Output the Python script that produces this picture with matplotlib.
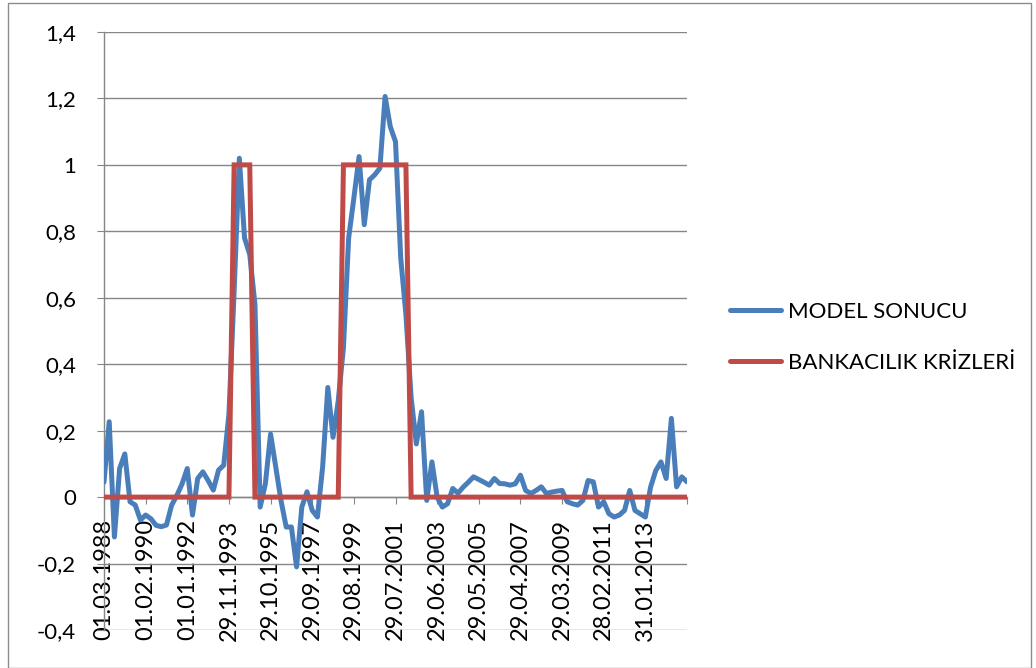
import numpy as np
import matplotlib
matplotlib.use("Agg")
import matplotlib.pyplot as plt
from matplotlib.ticker import FuncFormatter
from matplotlib.patches import Rectangle

plt.rcParams['font.family'] = ['Lato', 'DejaVu Sans']

# model output per period
model_sonucu = [
    0.045, 0.227, -0.12, 0.086, 0.13, -0.014, -0.024, -0.069, -0.054, -0.065,
    -0.085, -0.089, -0.084, -0.024, 0.005, 0.04, 0.086, -0.054, 0.056, 0.076,
    0.05, 0.021, 0.081, 0.096, 0.25, 0.62, 1.02, 0.78, 0.73, 0.58,
    -0.03, 0.04, 0.19, 0.09, -0.01, -0.09, -0.09, -0.21, -0.03, 0.016,
    -0.04, -0.06, 0.09, 0.33, 0.18, 0.29, 0.45, 0.78, 0.9, 1.025,
    0.82, 0.955, 0.97, 0.99, 1.206, 1.115, 1.07, 0.72, 0.55, 0.3,
    0.16, 0.257, -0.01, 0.106, 0.0, -0.03, -0.02, 0.026, 0.012, 0.03,
    0.045, 0.061, 0.053, 0.045, 0.036, 0.056, 0.041, 0.04, 0.036, 0.04,
    0.066, 0.02, 0.011, 0.02, 0.031, 0.011, 0.015, 0.018, 0.02, -0.014,
    -0.02, -0.024, -0.01, 0.05, 0.046, -0.03, -0.014, -0.05, -0.06, -0.054,
    -0.04, 0.02, -0.04, -0.05, -0.06, 0.03, 0.08, 0.106, 0.056, 0.237,
    0.031, 0.061, 0.046,
]

# banking crisis dummy (1 = crisis)
bankacilik_krizleri = [
    0, 0, 0, 0, 0, 0, 0, 0, 0, 0,
    0, 0, 0, 0, 0, 0, 0, 0, 0, 0,
    0, 0, 0, 0, 0, 1, 1, 1, 1, 0,
    0, 0, 0, 0, 0, 0, 0, 0, 0, 0,
    0, 0, 0, 0, 0, 0, 1, 1, 1, 1,
    1, 1, 1, 1, 1, 1, 1, 1, 1, 0,
    0, 0, 0, 0, 0, 0, 0, 0, 0, 0,
    0, 0, 0, 0, 0, 0, 0, 0, 0, 0,
    0, 0, 0, 0, 0, 0, 0, 0, 0, 0,
    0, 0, 0, 0, 0, 0, 0, 0, 0, 0,
    0, 0, 0, 0, 0, 0, 0, 0, 0, 0,
    0, 0, 0,
]

tarih_etiketleri = ['01.03.1988', '01.02.1990', '01.01.1992', '29.11.1993',
                    '29.10.1995', '29.09.1997', '29.08.1999', '29.07.2001',
                    '29.06.2003', '29.05.2005', '29.04.2007', '29.03.2009',
                    '28.02.2011', '31.01.2013']
etiket_araligi = 8

x = np.arange(len(model_sonucu))

W, H = 1036, 668
fig = plt.figure(figsize=(W / 100, H / 100), dpi=100)
fig.patch.set_facecolor('white')

# chart area border
fig.patches.append(Rectangle((8 / W, 0), (1031 - 8) / W, (H - 3) / H,
                             transform=fig.transFigure, fill=False,
                             edgecolor='#8c8c8c', linewidth=1.0))

ax = fig.add_axes([104 / W, (H - 630) / H, (687 - 104) / W, (630 - 32) / H])

blue = '#4a7ebb'
red = '#be4b48'
grid = '#868686'

l1, = ax.plot(x, model_sonucu, color=blue, lw=3.6, solid_joinstyle='round',
              solid_capstyle='round', label='MODEL SONUCU', zorder=3)
l2, = ax.plot(x, bankacilik_krizleri, color=red, lw=3.6, solid_joinstyle='miter',
              solid_capstyle='round', label='BANKACILIK KRİZLERİ', zorder=4)

ax.set_xlim(0, len(model_sonucu) - 1)
ax.set_ylim(-0.4, 1.4)

ax.spines['top'].set_visible(False)
ax.spines['right'].set_visible(False)
ax.spines['bottom'].set_position(('data', 0))
for s in ('left', 'bottom'):
    ax.spines[s].set_color(grid)
    ax.spines[s].set_linewidth(1.0)

ax.set_yticks(np.arange(-0.4, 1.41, 0.2))


def virgul(v, pos):
    v = round(v, 1)
    if v == int(v):
        return str(int(v))
    return f'{v:.1f}'.replace('.', ',')


ax.yaxis.set_major_formatter(FuncFormatter(virgul))

xt = list(range(0, len(model_sonucu), etiket_araligi))
ax.set_xticks(xt)
ax.set_xticklabels(tarih_etiketleri + [''] * (len(xt) - len(tarih_etiketleri)))

ax.tick_params(axis='y', direction='out', length=5, color=grid, labelsize=16,
               pad=15)
ax.tick_params(axis='x', direction='out', length=5, color=grid, pad=11,
               labelrotation=90, labelsize=17)

ax.yaxis.grid(True, color=grid, lw=1.0)
ax.set_axisbelow(True)

fig.legend(handles=[l1, l2], loc='center left',
           bbox_to_anchor=(730 / W, 1 - 337.5 / H), frameon=False,
           fontsize=16, handlelength=2.3, handletextpad=0.3,
           labelspacing=1.38, borderpad=0, borderaxespad=0)

fig.savefig('out.png', dpi=100)
